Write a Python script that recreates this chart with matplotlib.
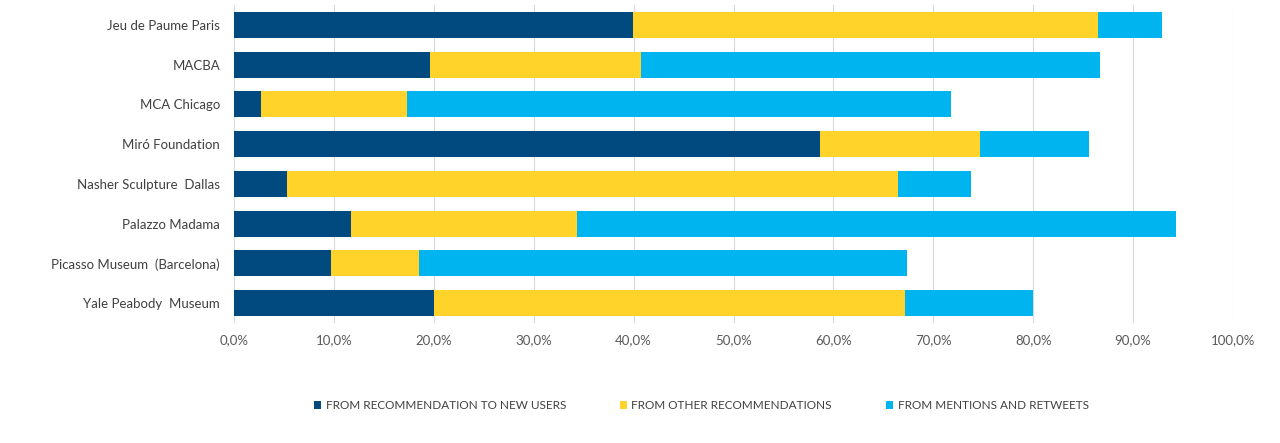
import matplotlib.pyplot as plt
from matplotlib.ticker import FuncFormatter, MultipleLocator

plt.rcParams["font.family"] = ["Lato", "DejaVu Sans"]

museums = [
    "Jeu de Paume Paris",
    "MACBA",
    "MCA Chicago",
    "Miró Foundation",
    "Nasher Sculpture  Dallas",
    "Palazzo Madama",
    "Picasso Museum  (Barcelona)",
    "Yale Peabody  Museum",
]
new_users = [39.9, 19.6, 2.7, 58.7, 5.3, 11.7, 9.7, 20.0]
other_recs = [46.6, 21.1, 14.6, 16.0, 61.2, 22.6, 8.8, 47.2]
mentions = [6.4, 46.0, 54.5, 10.9, 7.3, 60.0, 48.9, 12.8]

series_labels = [
    "FROM RECOMMENDATION TO NEW USERS",
    "FROM OTHER RECOMMENDATIONS",
    "FROM MENTIONS AND RETWEETS",
]
colors = ["#004A7F", "#FFD32A", "#00B4F0"]

fig = plt.figure(figsize=(12.8, 4.43), dpi=100)
ax = fig.add_axes([0.1828, 0.2709, 0.7805, 0.7178])

y = list(range(len(museums)))
left = [0.0] * len(museums)
for vals, lab, col in zip([new_users, other_recs, mentions], series_labels, colors):
    ax.barh(y, vals, left=left, height=0.65, color=col, label=lab, linewidth=0)
    left = [a + b for a, b in zip(left, vals)]

ax.set_ylim(len(museums) - 0.5, -0.5)
ax.set_yticks(y)
ax.set_yticklabels(museums, fontsize=9.5, color="#404040")
ax.set_xlim(0, 100)
ax.xaxis.set_major_locator(MultipleLocator(10))
ax.xaxis.set_major_formatter(FuncFormatter(lambda v, p: f"{v:.1f}%".replace(".", ",")))
ax.tick_params(axis="x", length=0, pad=8, labelsize=9.5, labelcolor="#595959")
ax.tick_params(axis="y", length=0, pad=10)
ax.grid(True, axis="x", color="#D9D9D9", linewidth=0.8)
ax.set_axisbelow(True)
for s in ax.spines.values():
    s.set_visible(False)

fig.legend(
    loc="center",
    bbox_to_anchor=(0.548, 0.085),
    ncol=3,
    frameon=False,
    fontsize=8.5,
    labelcolor="#404040",
    handlelength=0.6,
    handleheight=0.7,
    handletextpad=0.35,
    columnspacing=4.6,
)

fig.savefig("out.png", dpi=100)
